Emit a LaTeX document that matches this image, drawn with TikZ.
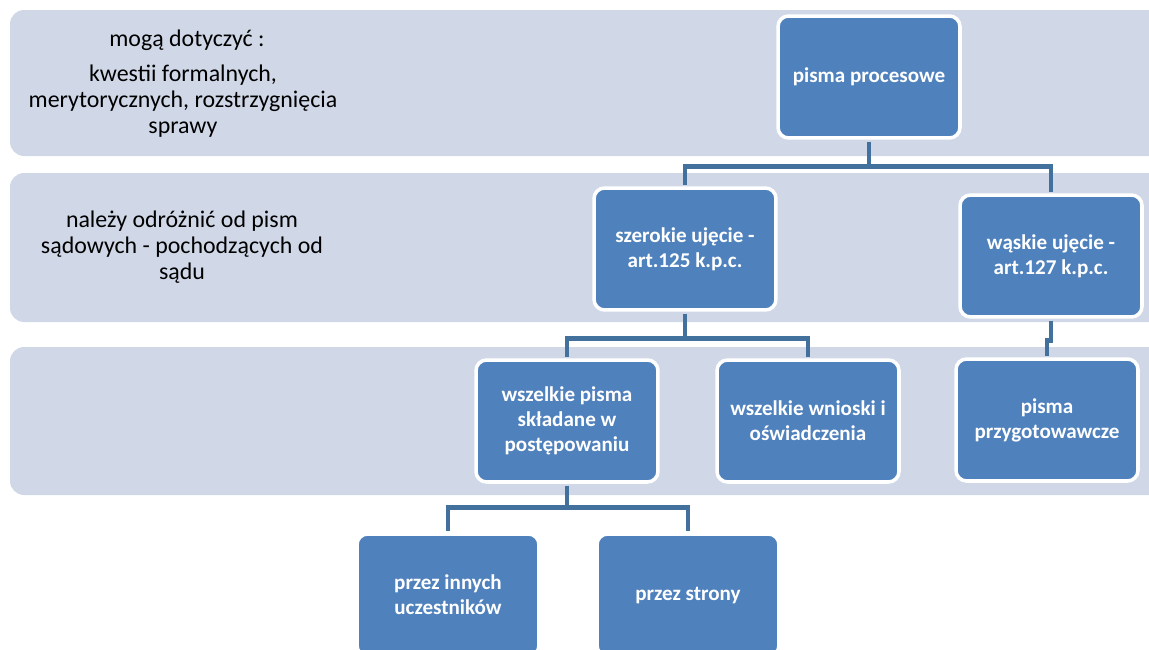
\documentclass[tikz,border=0pt]{standalone}
\usepackage{fontspec}
\setmainfont{Carlito}
\usetikzlibrary{positioning}
\definecolor{bandblue}{HTML}{D0D8E8}
\definecolor{boxblue}{HTML}{4F81BD}
\definecolor{lineblue}{HTML}{41719C}

\tikzset{
  band/.style={fill=bandblue, rounded corners=8pt},
  blok/.style={draw=white, line width=2pt, fill=boxblue, rounded corners=6pt,
    minimum width=3.64cm, minimum height=2.44cm, inner sep=2pt,
    align=center, text=white, font=\bfseries\fontsize{12}{14.2}\selectfont},
  conn/.style={lineblue, line width=2.8pt, shorten <=1pt, shorten >=1pt},
  note/.style={align=center, font=\fontsize{13.6}{14.8}\selectfont}
}

\begin{document}
\begin{tikzpicture}[x=0.02cm, y=-0.02cm]
	\useasboundingbox (0,0) rectangle (1149,649);
	% pasy tla
	\fill[band] (10,10) rectangle (1175,156);
	\fill[band] (10,173) rectangle (1175,322);
	\fill[band] (10,347) rectangle (1175,495);
	
	% opisy z lewej
	\node[note] (dotycz) at (187,40) {mogą dotyczyć :};
	\node[note] (kwestie) at (183,101) {kwestii formalnych,\\merytorycznych, rozstrzygnięcia\\sprawy};
	\node[note] (odroz) at (182,247) {należy odróżnić od pism\\sądowych - pochodzących od\\sądu};
	
	% bloki
	\node[blok] (pisma) at (869,77) {pisma procesowe};
	\node[blok] (szer) at (685,249) {szerokie ujęcie -\\art.125 k.p.c.};
	\node[blok] (wask) at (1051,256) {wąskie ujęcie -\\art.127 k.p.c.};
	\node[blok] (wszp) at (567,421) {wszelkie pisma\\składane w\\postępowaniu};
	\node[blok] (wszw) at (808,421) {wszelkie wnioski i\\oświadczenia};
	\node[blok] (przyg) at (1047,420) {pisma\\przygotowawcze};
	\node[blok] (inni) at (448,595) {przez innych\\uczestników};
	\node[blok] (strony) at (688,595) {przez strony};
	
	% polaczenia
	\draw[conn] (pisma.south) -- ++(0,27) -| (szer.north);
	\draw[conn] (pisma.south) -- ++(0,27) -| (wask.north);
	\draw[conn] (szer.south) -- ++(0,27) -| (wszp.north);
	\draw[conn] (szer.south) -- ++(0,27) -| (wszw.north);
	\draw[conn] (wask.south) -- ++(0,22) -| (przyg.north);
	\draw[conn] (wszp.south) -- ++(0,24) -| (inni.north);
	\draw[conn] (wszp.south) -- ++(0,24) -| (strony.north);
\end{tikzpicture}
\end{document}
